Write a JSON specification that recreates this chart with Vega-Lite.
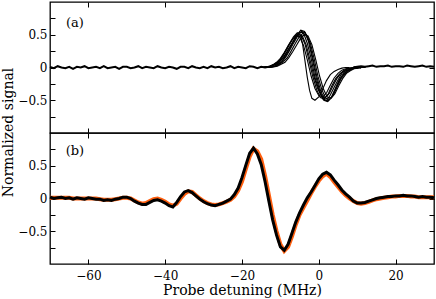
{
"$schema": "https://vega.github.io/schema/vega-lite/v6.json",
"background": "white",
"padding": {"left": 0, "top": 0, "right": 2, "bottom": 0},
"spacing": 0,
"bounds": "flush",
"config": {
  "font": "DejaVu Serif",
  "view": {"stroke": "black", "strokeWidth": 1.3},
  "axis": {"domain": false, "grid": false, "tickColor": "black", "tickSize": -5, "tickWidth": 1, "labelFont": "DejaVu Serif", "labelFontSize": 12, "labelColor": "black", "labelPadding": 8, "titleFont": "DejaVu Serif", "titleFontSize": 14, "titleFontWeight": "normal", "titleColor": "black"}
},
"vconcat": [
{
  "width": 384, "height": 131,
  "data": {"values": [
{"s":"t1","x":-14,"y":0.01},{"s":"t1","x":-13,"y":0.00},{"s":"t1","x":-12,"y":0.03},{"s":"t1","x":-11,"y":0.05},{"s":"t1","x":-10,"y":0.10},{"s":"t1","x":-9,"y":0.16},{"s":"t1","x":-8,"y":0.27},{"s":"t1","x":-7,"y":0.36},{"s":"t1","x":-6,"y":0.48},{"s":"t1","x":-5,"y":0.54},{"s":"t1","x":-4,"y":0.53},{"s":"t1","x":-3,"y":0.37},{"s":"t1","x":-2,"y":0.14},{"s":"t1","x":-1,"y":-0.15},{"s":"t1","x":0,"y":-0.34},{"s":"t1","x":1,"y":-0.48},{"s":"t1","x":2,"y":-0.51},{"s":"t1","x":3,"y":-0.42},{"s":"t1","x":4,"y":-0.30},{"s":"t1","x":5,"y":-0.19},{"s":"t1","x":6,"y":-0.09},{"s":"t1","x":7,"y":-0.05},{"s":"t1","x":8,"y":-0.03},{"s":"t1","x":9,"y":0.00},{"s":"t1","x":10,"y":0.01},{"s":"t1","x":11,"y":-0.01},
{"s":"t2","x":-14.6,"y":0.00},{"s":"t2","x":-13.6,"y":0.01},{"s":"t2","x":-12.6,"y":0.02},{"s":"t2","x":-11.6,"y":0.05},{"s":"t2","x":-10.6,"y":0.08},{"s":"t2","x":-9.6,"y":0.15},{"s":"t2","x":-8.6,"y":0.25},{"s":"t2","x":-7.6,"y":0.35},{"s":"t2","x":-6.6,"y":0.45},{"s":"t2","x":-5.6,"y":0.51},{"s":"t2","x":-4.6,"y":0.49},{"s":"t2","x":-3.6,"y":0.36},{"s":"t2","x":-2.6,"y":0.12},{"s":"t2","x":-1.6,"y":-0.13},{"s":"t2","x":-0.6,"y":-0.33},{"s":"t2","x":0.4,"y":-0.46},{"s":"t2","x":1.4,"y":-0.48},{"s":"t2","x":2.4,"y":-0.41},{"s":"t2","x":3.4,"y":-0.28},{"s":"t2","x":4.4,"y":-0.17},{"s":"t2","x":5.4,"y":-0.10},{"s":"t2","x":6.4,"y":-0.05},{"s":"t2","x":7.4,"y":-0.02},{"s":"t2","x":8.4,"y":-0.01},{"s":"t2","x":9.4,"y":0.01},{"s":"t2","x":10.4,"y":0.00},
{"s":"t3","x":-13.5,"y":0.01},{"s":"t3","x":-12.5,"y":0.01},{"s":"t3","x":-11.5,"y":0.02},{"s":"t3","x":-10.5,"y":0.05},{"s":"t3","x":-9.5,"y":0.09},{"s":"t3","x":-8.5,"y":0.17},{"s":"t3","x":-7.5,"y":0.27},{"s":"t3","x":-6.5,"y":0.38},{"s":"t3","x":-5.5,"y":0.48},{"s":"t3","x":-4.5,"y":0.55},{"s":"t3","x":-3.5,"y":0.53},{"s":"t3","x":-2.5,"y":0.39},{"s":"t3","x":-1.5,"y":0.13},{"s":"t3","x":-0.5,"y":-0.14},{"s":"t3","x":0.5,"y":-0.36},{"s":"t3","x":1.5,"y":-0.49},{"s":"t3","x":2.5,"y":-0.51},{"s":"t3","x":3.5,"y":-0.44},{"s":"t3","x":4.5,"y":-0.31},{"s":"t3","x":5.5,"y":-0.18},{"s":"t3","x":6.5,"y":-0.10},{"s":"t3","x":7.5,"y":-0.05},{"s":"t3","x":8.5,"y":-0.02},{"s":"t3","x":9.5,"y":-0.01},{"s":"t3","x":10.5,"y":0.00},{"s":"t3","x":11.5,"y":0.01},
{"s":"t4","x":-15,"y":0.00},{"s":"t4","x":-14,"y":0.01},{"s":"t4","x":-13,"y":0.02},{"s":"t4","x":-12,"y":0.04},{"s":"t4","x":-11,"y":0.08},{"s":"t4","x":-10,"y":0.14},{"s":"t4","x":-9,"y":0.23},{"s":"t4","x":-8,"y":0.33},{"s":"t4","x":-7,"y":0.42},{"s":"t4","x":-6,"y":0.49},{"s":"t4","x":-5,"y":0.47},{"s":"t4","x":-4,"y":0.34},{"s":"t4","x":-3,"y":0.12},{"s":"t4","x":-2,"y":-0.13},{"s":"t4","x":-1,"y":-0.32},{"s":"t4","x":0,"y":-0.43},{"s":"t4","x":1,"y":-0.45},{"s":"t4","x":2,"y":-0.39},{"s":"t4","x":3,"y":-0.27},{"s":"t4","x":4,"y":-0.16},{"s":"t4","x":5,"y":-0.09},{"s":"t4","x":6,"y":-0.04},{"s":"t4","x":7,"y":-0.02},{"s":"t4","x":8,"y":-0.01},{"s":"t4","x":9,"y":0.00},{"s":"t4","x":10,"y":0.00},
{"s":"t5","x":-13.2,"y":0.00},{"s":"t5","x":-12.2,"y":0.01},{"s":"t5","x":-11.2,"y":0.02},{"s":"t5","x":-10.2,"y":0.05},{"s":"t5","x":-9.2,"y":0.09},{"s":"t5","x":-8.2,"y":0.15},{"s":"t5","x":-7.2,"y":0.25},{"s":"t5","x":-6.2,"y":0.36},{"s":"t5","x":-5.2,"y":0.46},{"s":"t5","x":-4.2,"y":0.52},{"s":"t5","x":-3.2,"y":0.50},{"s":"t5","x":-2.2,"y":0.37},{"s":"t5","x":-1.2,"y":0.13},{"s":"t5","x":-0.2,"y":-0.14},{"s":"t5","x":0.8,"y":-0.34},{"s":"t5","x":1.8,"y":-0.47},{"s":"t5","x":2.8,"y":-0.49},{"s":"t5","x":3.8,"y":-0.42},{"s":"t5","x":4.8,"y":-0.29},{"s":"t5","x":5.8,"y":-0.17},{"s":"t5","x":6.8,"y":-0.10},{"s":"t5","x":7.8,"y":-0.05},{"s":"t5","x":8.8,"y":-0.02},{"s":"t5","x":9.8,"y":-0.01},{"s":"t5","x":10.8,"y":0.00},{"s":"t5","x":11.8,"y":0.00},
{"s":"t6","x":-13.7,"y":0.01},{"s":"t6","x":-12.7,"y":0.01},{"s":"t6","x":-11.7,"y":0.02},{"s":"t6","x":-10.7,"y":0.05},{"s":"t6","x":-9.7,"y":0.09},{"s":"t6","x":-8.7,"y":0.17},{"s":"t6","x":-7.7,"y":0.27},{"s":"t6","x":-6.7,"y":0.39},{"s":"t6","x":-5.7,"y":0.49},{"s":"t6","x":-4.7,"y":0.57},{"s":"t6","x":-3.7,"y":0.55},{"s":"t6","x":-2.7,"y":0.40},{"s":"t6","x":-1.7,"y":0.14},{"s":"t6","x":-0.7,"y":-0.15},{"s":"t6","x":0.3,"y":-0.37},{"s":"t6","x":1.3,"y":-0.50},{"s":"t6","x":2.3,"y":-0.52},{"s":"t6","x":3.3,"y":-0.45},{"s":"t6","x":4.3,"y":-0.32},{"s":"t6","x":5.3,"y":-0.19},{"s":"t6","x":6.3,"y":-0.10},{"s":"t6","x":7.3,"y":-0.05},{"s":"t6","x":8.3,"y":-0.02},{"s":"t6","x":9.3,"y":-0.01},{"s":"t6","x":10.3,"y":0.00},{"s":"t6","x":11.3,"y":0.00},
{"s":"t7","x":-14.3,"y":0.00},{"s":"t7","x":-13.3,"y":0.01},{"s":"t7","x":-12.3,"y":0.02},{"s":"t7","x":-11.3,"y":0.05},{"s":"t7","x":-10.3,"y":0.08},{"s":"t7","x":-9.3,"y":0.15},{"s":"t7","x":-8.3,"y":0.24},{"s":"t7","x":-7.3,"y":0.34},{"s":"t7","x":-6.3,"y":0.43},{"s":"t7","x":-5.3,"y":0.50},{"s":"t7","x":-4.3,"y":0.48},{"s":"t7","x":-3.3,"y":0.35},{"s":"t7","x":-2.3,"y":0.12},{"s":"t7","x":-1.3,"y":-0.13},{"s":"t7","x":-0.3,"y":-0.32},{"s":"t7","x":0.7,"y":-0.44},{"s":"t7","x":1.7,"y":-0.46},{"s":"t7","x":2.7,"y":-0.40},{"s":"t7","x":3.7,"y":-0.28},{"s":"t7","x":4.7,"y":-0.17},{"s":"t7","x":5.7,"y":-0.09},{"s":"t7","x":6.7,"y":-0.05},{"s":"t7","x":7.7,"y":-0.02},{"s":"t7","x":8.7,"y":-0.01},{"s":"t7","x":9.7,"y":0.00},{"s":"t7","x":10.7,"y":0.00},
{"s":"t8","x":-12.8,"y":0.00},{"s":"t8","x":-11.8,"y":0.01},{"s":"t8","x":-10.8,"y":0.02},{"s":"t8","x":-9.8,"y":0.05},{"s":"t8","x":-8.8,"y":0.08},{"s":"t8","x":-7.8,"y":0.15},{"s":"t8","x":-6.8,"y":0.24},{"s":"t8","x":-5.8,"y":0.34},{"s":"t8","x":-4.8,"y":0.44},{"s":"t8","x":-3.8,"y":0.50},{"s":"t8","x":-2.8,"y":0.48},{"s":"t8","x":-1.8,"y":0.35},{"s":"t8","x":-0.8,"y":0.12},{"s":"t8","x":0.2,"y":-0.13},{"s":"t8","x":1.2,"y":-0.33},{"s":"t8","x":2.2,"y":-0.45},{"s":"t8","x":3.2,"y":-0.47},{"s":"t8","x":4.2,"y":-0.40},{"s":"t8","x":5.2,"y":-0.28},{"s":"t8","x":6.2,"y":-0.17},{"s":"t8","x":7.2,"y":-0.09},{"s":"t8","x":8.2,"y":-0.05},{"s":"t8","x":9.2,"y":-0.02},{"s":"t8","x":10.2,"y":-0.01},{"s":"t8","x":11.2,"y":0.00},{"s":"t8","x":12.2,"y":0.00},
{"s":"t9","x":-14.6,"y":0.00},{"s":"t9","x":-13.6,"y":0.01},{"s":"t9","x":-12.6,"y":0.02},{"s":"t9","x":-11.6,"y":0.05},{"s":"t9","x":-10.6,"y":0.09},{"s":"t9","x":-9.6,"y":0.16},{"s":"t9","x":-8.6,"y":0.26},{"s":"t9","x":-7.6,"y":0.37},{"s":"t9","x":-6.6,"y":0.47},{"s":"t9","x":-5.6,"y":0.53},{"s":"t9","x":-4.8,"y":0.50},{"s":"t9","x":-4.2,"y":0.35},{"s":"t9","x":-3.6,"y":0.10},{"s":"t9","x":-3.0,"y":-0.15},{"s":"t9","x":-2.4,"y":-0.35},{"s":"t9","x":-1.8,"y":-0.47},{"s":"t9","x":-1.0,"y":-0.50},{"s":"t9","x":0.0,"y":-0.45},{"s":"t9","x":1.0,"y":-0.33},{"s":"t9","x":2.0,"y":-0.20},{"s":"t9","x":3.0,"y":-0.11},{"s":"t9","x":4.0,"y":-0.06},{"s":"t9","x":5.0,"y":-0.03},{"s":"t9","x":6.0,"y":-0.01},{"s":"t9","x":7.0,"y":0.00},{"s":"t9","x":8.0,"y":0.00},
{"s":"b1","x":-70,"y":0.01},{"s":"b1","x":-69,"y":-0.01},{"s":"b1","x":-68,"y":0.02},{"s":"b1","x":-67,"y":0.00},{"s":"b1","x":-66,"y":-0.01},{"s":"b1","x":-65,"y":0.01},{"s":"b1","x":-64,"y":-0.02},{"s":"b1","x":-63,"y":0.01},{"s":"b1","x":-62,"y":0.00},{"s":"b1","x":-61,"y":0.02},{"s":"b1","x":-60,"y":-0.01},{"s":"b1","x":-59,"y":0.00},{"s":"b1","x":-58,"y":0.01},{"s":"b1","x":-57,"y":-0.01},{"s":"b1","x":-56,"y":0.02},{"s":"b1","x":-55,"y":-0.01},{"s":"b1","x":-54,"y":0.00},{"s":"b1","x":-53,"y":0.01},{"s":"b1","x":-52,"y":-0.02},{"s":"b1","x":-51,"y":0.01},{"s":"b1","x":-50,"y":0.01},{"s":"b1","x":-49,"y":-0.01},{"s":"b1","x":-48,"y":0.00},{"s":"b1","x":-47,"y":0.02},{"s":"b1","x":-46,"y":-0.01},{"s":"b1","x":-45,"y":0.01},{"s":"b1","x":-44,"y":0.00},{"s":"b1","x":-43,"y":-0.01},{"s":"b1","x":-42,"y":0.02},{"s":"b1","x":-41,"y":0.00},{"s":"b1","x":-40,"y":-0.01},{"s":"b1","x":-39,"y":0.01},{"s":"b1","x":-38,"y":0.00},{"s":"b1","x":-37,"y":-0.02},{"s":"b1","x":-36,"y":0.01},{"s":"b1","x":-35,"y":0.01},{"s":"b1","x":-34,"y":-0.01},{"s":"b1","x":-33,"y":0.02},{"s":"b1","x":-32,"y":0.00},{"s":"b1","x":-31,"y":-0.01},{"s":"b1","x":-30,"y":0.01},{"s":"b1","x":-29,"y":-0.01},{"s":"b1","x":-28,"y":0.02},{"s":"b1","x":-27,"y":0.00},{"s":"b1","x":-26,"y":0.01},{"s":"b1","x":-25,"y":-0.01},{"s":"b1","x":-24,"y":0.00},{"s":"b1","x":-23,"y":0.02},{"s":"b1","x":-22,"y":-0.01},{"s":"b1","x":-21,"y":0.01},{"s":"b1","x":-20,"y":0.00},{"s":"b1","x":-19,"y":-0.01},{"s":"b1","x":-18,"y":0.02},{"s":"b1","x":-17,"y":0.01},{"s":"b1","x":-16,"y":-0.01},{"s":"b1","x":-15,"y":0.01},{"s":"b1","x":-14,"y":0.00},{"s":"b1","x":-13,"y":0.01},
{"s":"b2","x":9,"y":0.00},{"s":"b2","x":10,"y":0.01},{"s":"b2","x":11,"y":0.02},{"s":"b2","x":12,"y":0.01},{"s":"b2","x":13,"y":0.02},{"s":"b2","x":14,"y":0.03},{"s":"b2","x":15,"y":0.01},{"s":"b2","x":16,"y":0.02},{"s":"b2","x":17,"y":0.02},{"s":"b2","x":18,"y":0.03},{"s":"b2","x":19,"y":0.01},{"s":"b2","x":20,"y":0.02},{"s":"b2","x":21,"y":0.02},{"s":"b2","x":22,"y":0.01},{"s":"b2","x":23,"y":0.03},{"s":"b2","x":24,"y":0.02},{"s":"b2","x":25,"y":0.01},{"s":"b2","x":26,"y":0.02},{"s":"b2","x":27,"y":0.03},{"s":"b2","x":28,"y":0.01},{"s":"b2","x":29,"y":0.02},{"s":"b2","x":30,"y":0.01}
  ]},
  "layer": [
    {"transform": [{"filter": "substring(datum.s,0,1) == 't'"}],
     "mark": {"type": "line", "color": "black", "strokeWidth": 1.1},
     "encoding": {
       "x": {"field": "x", "type": "quantitative", "scale": {"domain": [-70, 30], "nice": false, "zero": false}, "axis": {"orient": "bottom", "values": [-60, -40, -20, 0, 20], "labels": false, "title": null}},
       "y": {"field": "y", "type": "quantitative", "scale": {"domain": [-1, 1], "nice": false}, "axis": {"orient": "left", "values": [-0.75, -0.5, -0.25, 0, 0.25, 0.5, 0.75], "format": "~g", "labelExpr": "datum.value == 0 || abs(datum.value) == 0.5 ? datum.label : ''", "title": "Normalized signal", "titleY": 130, "titleX": -35}},
       "detail": {"field": "s"}
     }},
    {"transform": [{"filter": "substring(datum.s,0,1) == 'b'"}],
     "mark": {"type": "line", "color": "black", "strokeWidth": 2},
     "encoding": {
       "x": {"field": "x", "type": "quantitative", "axis": {"orient": "top", "values": [-60, -40, -20, 0, 20], "labels": false, "title": null}},
       "y": {"field": "y", "type": "quantitative", "axis": {"orient": "right", "values": [-0.75, -0.5, -0.25, 0, 0.25, 0.5, 0.75], "labels": false, "title": null}},
       "detail": {"field": "s"}
     }},
    {"data": {"values": [{"label": "(a)"}]},
     "mark": {"type": "text", "fontSize": 13, "font": "DejaVu Serif", "color": "black"},
     "encoding": {
       "x": {"datum": -63.5, "type": "quantitative", "axis": null},
       "y": {"datum": 0.68, "type": "quantitative", "axis": null},
       "text": {"field": "label"}
     }}
  ],
  "resolve": {"axis": {"x": "independent", "y": "independent"}}
},
{
  "width": 384, "height": 131,
  "data": {"values": [
{"s":"fit","x":-70,"y":0.01},{"s":"fit","x":-69,"y":0.01},{"s":"fit","x":-68,"y":0.01},{"s":"fit","x":-67,"y":0.01},{"s":"fit","x":-66,"y":0.01},{"s":"fit","x":-65,"y":0.01},{"s":"fit","x":-64,"y":0.00},{"s":"fit","x":-63,"y":0.00},{"s":"fit","x":-62,"y":0.00},{"s":"fit","x":-61,"y":0.00},{"s":"fit","x":-60,"y":0.00},{"s":"fit","x":-59,"y":0.00},{"s":"fit","x":-58,"y":0.00},{"s":"fit","x":-57,"y":-0.01},{"s":"fit","x":-56,"y":-0.02},{"s":"fit","x":-55,"y":-0.02},{"s":"fit","x":-54,"y":-0.02},{"s":"fit","x":-53,"y":-0.01},{"s":"fit","x":-52,"y":0.00},{"s":"fit","x":-51,"y":0.01},{"s":"fit","x":-50,"y":0.01},{"s":"fit","x":-49,"y":0.00},{"s":"fit","x":-48,"y":-0.03},{"s":"fit","x":-47,"y":-0.06},{"s":"fit","x":-46,"y":-0.08},{"s":"fit","x":-45,"y":-0.07},{"s":"fit","x":-44,"y":-0.04},{"s":"fit","x":-43,"y":-0.01},{"s":"fit","x":-42,"y":0.00},{"s":"fit","x":-41,"y":-0.02},{"s":"fit","x":-40,"y":-0.05},{"s":"fit","x":-39,"y":-0.09},{"s":"fit","x":-38,"y":-0.11},{"s":"fit","x":-37,"y":-0.08},{"s":"fit","x":-36,"y":0.00},{"s":"fit","x":-35,"y":0.07},{"s":"fit","x":-34,"y":0.11},{"s":"fit","x":-33,"y":0.10},{"s":"fit","x":-32,"y":0.05},{"s":"fit","x":-31,"y":0.00},{"s":"fit","x":-30,"y":-0.04},{"s":"fit","x":-29,"y":-0.07},{"s":"fit","x":-28,"y":-0.09},{"s":"fit","x":-27,"y":-0.10},{"s":"fit","x":-26,"y":-0.09},{"s":"fit","x":-25,"y":-0.07},{"s":"fit","x":-24,"y":-0.05},{"s":"fit","x":-23,"y":-0.02},{"s":"fit","x":-22,"y":0.03},{"s":"fit","x":-21,"y":0.12},{"s":"fit","x":-20,"y":0.26},{"s":"fit","x":-19,"y":0.45},{"s":"fit","x":-18,"y":0.64},{"s":"fit","x":-17,"y":0.76},{"s":"fit","x":-16,"y":0.72},{"s":"fit","x":-15,"y":0.60},{"s":"fit","x":-14,"y":0.35},{"s":"fit","x":-13,"y":0.05},{"s":"fit","x":-12,"y":-0.25},{"s":"fit","x":-11,"y":-0.50},{"s":"fit","x":-10,"y":-0.70},{"s":"fit","x":-9,"y":-0.80},{"s":"fit","x":-8,"y":-0.74},{"s":"fit","x":-7,"y":-0.58},{"s":"fit","x":-6,"y":-0.40},{"s":"fit","x":-5,"y":-0.25},{"s":"fit","x":-4,"y":-0.14},{"s":"fit","x":-3,"y":-0.03},{"s":"fit","x":-2,"y":0.08},{"s":"fit","x":-1,"y":0.18},{"s":"fit","x":0,"y":0.27},{"s":"fit","x":1,"y":0.34},{"s":"fit","x":2,"y":0.38},{"s":"fit","x":3,"y":0.33},{"s":"fit","x":4,"y":0.25},{"s":"fit","x":5,"y":0.18},{"s":"fit","x":6,"y":0.11},{"s":"fit","x":7,"y":0.05},{"s":"fit","x":8,"y":0.00},{"s":"fit","x":9,"y":-0.04},{"s":"fit","x":10,"y":-0.07},{"s":"fit","x":11,"y":-0.08},{"s":"fit","x":12,"y":-0.07},{"s":"fit","x":13,"y":-0.05},{"s":"fit","x":14,"y":-0.03},{"s":"fit","x":15,"y":-0.01},{"s":"fit","x":16,"y":0.00},{"s":"fit","x":17,"y":0.01},{"s":"fit","x":18,"y":0.02},{"s":"fit","x":19,"y":0.03},{"s":"fit","x":20,"y":0.03},{"s":"fit","x":21,"y":0.04},{"s":"fit","x":22,"y":0.04},{"s":"fit","x":23,"y":0.04},{"s":"fit","x":24,"y":0.03},{"s":"fit","x":25,"y":0.03},{"s":"fit","x":26,"y":0.02},{"s":"fit","x":27,"y":0.02},{"s":"fit","x":28,"y":0.02},{"s":"fit","x":29,"y":0.02},{"s":"fit","x":30,"y":0.02},
{"s":"data","x":-70,"y":0.02},{"s":"data","x":-69,"y":0.00},{"s":"data","x":-68,"y":0.01},{"s":"data","x":-67,"y":0.02},{"s":"data","x":-66,"y":0.00},{"s":"data","x":-65,"y":0.01},{"s":"data","x":-64,"y":-0.01},{"s":"data","x":-63,"y":0.01},{"s":"data","x":-62,"y":0.00},{"s":"data","x":-61,"y":-0.01},{"s":"data","x":-60,"y":0.01},{"s":"data","x":-59,"y":0.00},{"s":"data","x":-58,"y":-0.01},{"s":"data","x":-57,"y":-0.01},{"s":"data","x":-56,"y":-0.03},{"s":"data","x":-55,"y":-0.02},{"s":"data","x":-54,"y":-0.03},{"s":"data","x":-53,"y":-0.01},{"s":"data","x":-52,"y":0.00},{"s":"data","x":-51,"y":0.02},{"s":"data","x":-50,"y":0.02},{"s":"data","x":-49,"y":0.00},{"s":"data","x":-48,"y":-0.04},{"s":"data","x":-47,"y":-0.07},{"s":"data","x":-46,"y":-0.09},{"s":"data","x":-45,"y":-0.09},{"s":"data","x":-44,"y":-0.06},{"s":"data","x":-43,"y":-0.03},{"s":"data","x":-42,"y":-0.02},{"s":"data","x":-41,"y":-0.04},{"s":"data","x":-40,"y":-0.07},{"s":"data","x":-39,"y":-0.11},{"s":"data","x":-38,"y":-0.13},{"s":"data","x":-37,"y":-0.06},{"s":"data","x":-36,"y":0.03},{"s":"data","x":-35,"y":0.10},{"s":"data","x":-34,"y":0.12},{"s":"data","x":-33,"y":0.09},{"s":"data","x":-32,"y":0.04},{"s":"data","x":-31,"y":-0.01},{"s":"data","x":-30,"y":-0.05},{"s":"data","x":-29,"y":-0.08},{"s":"data","x":-28,"y":-0.10},{"s":"data","x":-27,"y":-0.11},{"s":"data","x":-26,"y":-0.09},{"s":"data","x":-25,"y":-0.07},{"s":"data","x":-24,"y":-0.04},{"s":"data","x":-23,"y":-0.01},{"s":"data","x":-22,"y":0.06},{"s":"data","x":-21,"y":0.16},{"s":"data","x":-20,"y":0.32},{"s":"data","x":-19,"y":0.51},{"s":"data","x":-18,"y":0.69},{"s":"data","x":-17,"y":0.77},{"s":"data","x":-16,"y":0.68},{"s":"data","x":-15,"y":0.52},{"s":"data","x":-14,"y":0.26},{"s":"data","x":-13,"y":-0.04},{"s":"data","x":-12,"y":-0.33},{"s":"data","x":-11,"y":-0.56},{"s":"data","x":-10,"y":-0.74},{"s":"data","x":-9,"y":-0.79},{"s":"data","x":-8,"y":-0.70},{"s":"data","x":-7,"y":-0.53},{"s":"data","x":-6,"y":-0.36},{"s":"data","x":-5,"y":-0.22},{"s":"data","x":-4,"y":-0.10},{"s":"data","x":-3,"y":0.01},{"s":"data","x":-2,"y":0.10},{"s":"data","x":-1,"y":0.20},{"s":"data","x":0,"y":0.30},{"s":"data","x":1,"y":0.37},{"s":"data","x":2,"y":0.40},{"s":"data","x":3,"y":0.36},{"s":"data","x":4,"y":0.28},{"s":"data","x":5,"y":0.21},{"s":"data","x":6,"y":0.13},{"s":"data","x":7,"y":0.07},{"s":"data","x":8,"y":0.02},{"s":"data","x":9,"y":-0.04},{"s":"data","x":10,"y":-0.07},{"s":"data","x":11,"y":-0.07},{"s":"data","x":12,"y":-0.06},{"s":"data","x":13,"y":-0.04},{"s":"data","x":14,"y":-0.02},{"s":"data","x":15,"y":0.00},{"s":"data","x":16,"y":0.01},{"s":"data","x":17,"y":0.02},{"s":"data","x":18,"y":0.03},{"s":"data","x":19,"y":0.03},{"s":"data","x":20,"y":0.04},{"s":"data","x":21,"y":0.04},{"s":"data","x":22,"y":0.05},{"s":"data","x":23,"y":0.04},{"s":"data","x":24,"y":0.04},{"s":"data","x":25,"y":0.03},{"s":"data","x":26,"y":0.02},{"s":"data","x":27,"y":0.03},{"s":"data","x":28,"y":0.02},{"s":"data","x":29,"y":0.02},{"s":"data","x":30,"y":0.01}
  ]},
  "layer": [
    {"transform": [{"filter": "datum.s == 'fit'"}],
     "mark": {"type": "line", "color": "#ff5f0f", "strokeWidth": 4},
     "encoding": {
       "x": {"field": "x", "type": "quantitative", "scale": {"domain": [-70, 30], "nice": false, "zero": false}, "axis": {"orient": "bottom", "values": [-60, -40, -20, 0, 20], "labelPadding": 11, "title": "Probe detuning (MHz)", "titlePadding": 2}},
       "y": {"field": "y", "type": "quantitative", "scale": {"domain": [-1, 1], "nice": false}, "axis": {"orient": "left", "values": [-0.75, -0.5, -0.25, 0, 0.25, 0.5, 0.75], "format": "~g", "labelExpr": "datum.value == 0 || abs(datum.value) == 0.5 ? datum.label : ''", "title": null}}
     }},
    {"transform": [{"filter": "datum.s == 'data'"}],
     "mark": {"type": "line", "color": "black", "strokeWidth": 3},
     "encoding": {
       "x": {"field": "x", "type": "quantitative", "axis": {"orient": "top", "values": [-60, -40, -20, 0, 20], "labels": false, "title": null}},
       "y": {"field": "y", "type": "quantitative", "axis": {"orient": "right", "values": [-0.75, -0.5, -0.25, 0, 0.25, 0.5, 0.75], "labels": false, "title": null}}
     }},
    {"data": {"values": [{"label": "(b)"}]},
     "mark": {"type": "text", "fontSize": 13, "font": "DejaVu Serif", "color": "black"},
     "encoding": {
       "x": {"datum": -63.5, "type": "quantitative", "axis": null},
       "y": {"datum": 0.72, "type": "quantitative", "axis": null},
       "text": {"field": "label"}
     }}
  ],
  "resolve": {"axis": {"x": "independent", "y": "independent"}}
}
]
}
